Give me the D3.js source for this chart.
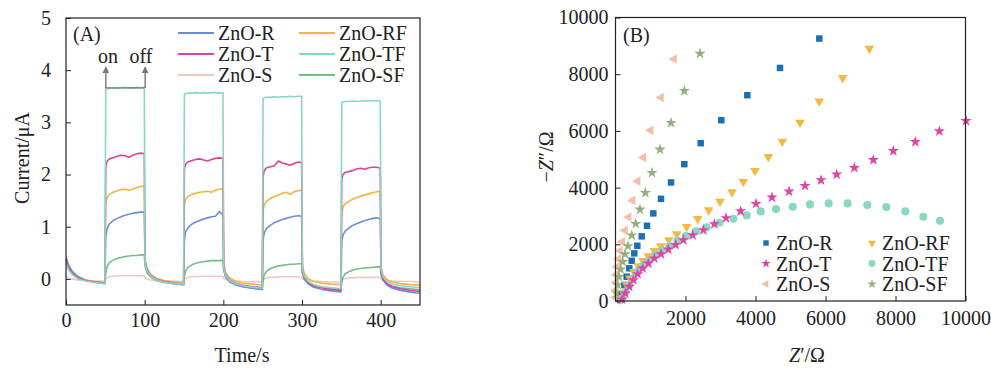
<!DOCTYPE html>
<html>
<head>
<meta charset="utf-8">
<script src="https://cdn.jsdelivr.net/npm/d3@7"></script>
<style>
  body { margin: 0; background: #fff; }
  svg { display: block; font-family: "Liberation Serif", "Times New Roman", serif; }
  .axis text { font-size: 20px; fill: #222; font-family: "Liberation Serif", serif; }
  .axis line { stroke: #222; }
  .frame { fill: none; stroke: #222; stroke-width: 1.2; }
  .lbl { font-size: 20px; fill: #222; }
</style>
</head>
<body>
<div id="chart"></div>
<script>
// ---- panel A: photocurrent vs time ----
const times = [
  0, 3, 8, 15, 25, 37, 49.5,
  50.5, 52, 55, 60, 65, 70, 75, 80, 85, 90, 95, 99.5,
  100.5, 103, 108, 115, 125, 137, 149.5,
  150.5, 152, 155, 160, 165, 170, 175, 180, 185, 190, 195, 199.5,
  200.5, 203, 208, 215, 225, 237, 249.5,
  250.5, 252, 255, 260, 265, 270, 275, 280, 285, 290, 295, 299.5,
  300.5, 303, 308, 315, 325, 337, 349.5,
  350.5, 352, 355, 360, 365, 370, 375, 380, 385, 390, 395, 399.5,
  400.5, 403, 408, 415, 425, 437, 450
];

const curR = [
  0.40, 0.25, 0.12, 0.03, -0.03, -0.07, -0.09,
  0.80, 0.95, 1.05, 1.12, 1.16, 1.19, 1.22, 1.24, 1.26, 1.27, 1.28, 1.28,
  0.30, 0.15, 0.05, -0.02, -0.06, -0.09, -0.11,
  0.75, 0.90, 0.98, 1.05, 1.09, 1.12, 1.15, 1.17, 1.19, 1.20, 1.29, 1.23,
  0.20, 0.05, -0.05, -0.11, -0.15, -0.18, -0.20,
  0.75, 0.88, 0.97, 1.03, 1.08, 1.11, 1.14, 1.16, 1.18, 1.20, 1.21, 1.20,
  0.15, 0.00, -0.10, -0.16, -0.20, -0.23, -0.25,
  0.70, 0.84, 0.92, 0.98, 1.03, 1.06, 1.09, 1.12, 1.14, 1.16, 1.17, 1.15,
  0.10, -0.02, -0.12, -0.18, -0.22, -0.25, -0.28
];
const curT = [
  0.38, 0.22, 0.10, 0.02, -0.03, -0.06, -0.08,
  2.15, 2.25, 2.30, 2.32, 2.35, 2.37, 2.36, 2.33, 2.37, 2.40, 2.41, 2.40,
  0.35, 0.18, 0.06, -0.01, -0.05, -0.08, -0.10,
  2.10, 2.20, 2.24, 2.27, 2.29, 2.30, 2.28, 2.26, 2.29, 2.31, 2.32, 2.31,
  0.25, 0.08, -0.02, -0.08, -0.12, -0.15, -0.17,
  1.95, 2.08, 2.13, 2.15, 2.17, 2.26, 2.22, 2.20, 2.18, 2.21, 2.24, 2.23,
  0.20, 0.03, -0.07, -0.13, -0.17, -0.20, -0.22,
  1.90, 2.00, 2.04, 2.06, 2.08, 2.11, 2.12, 2.10, 2.13, 2.14, 2.14, 2.12,
  0.15, 0.00, -0.09, -0.15, -0.19, -0.22, -0.24
];
const curS = [
  0.05, 0.02, 0.00, -0.02, -0.03, -0.04, -0.04,
  -0.01, 0.02, 0.04, 0.05, 0.06, 0.06, 0.06, 0.06, 0.06, 0.06, 0.06, 0.06,
  0.02, 0.00, -0.02, -0.03, -0.04, -0.04, -0.05,
  -0.02, 0.01, 0.03, 0.04, 0.04, 0.05, 0.05, 0.05, 0.05, 0.05, 0.05, 0.05,
  0.01, -0.01, -0.03, -0.04, -0.05, -0.05, -0.06,
  -0.03, 0.00, 0.02, 0.03, 0.03, 0.04, 0.04, 0.04, 0.04, 0.04, 0.04, 0.04,
  0.00, -0.02, -0.03, -0.04, -0.05, -0.06, -0.06,
  -0.04, -0.01, 0.01, 0.02, 0.02, 0.03, 0.03, 0.03, 0.03, 0.03, 0.03, 0.03,
  0.00, -0.02, -0.03, -0.04, -0.05, -0.05, -0.06
];
const curRF = [
  0.35, 0.20, 0.09, 0.02, -0.02, -0.05, -0.07,
  1.45, 1.55, 1.62, 1.66, 1.69, 1.71, 1.72, 1.70, 1.72, 1.75, 1.77, 1.78,
  0.35, 0.20, 0.08, 0.01, -0.03, -0.06, -0.07,
  1.40, 1.52, 1.58, 1.62, 1.64, 1.66, 1.67, 1.68, 1.66, 1.70, 1.72, 1.73,
  0.30, 0.12, 0.02, -0.04, -0.08, -0.10, -0.12,
  1.30, 1.42, 1.49, 1.54, 1.58, 1.61, 1.64, 1.66, 1.62, 1.67, 1.69, 1.70,
  0.25, 0.10, 0.00, -0.05, -0.08, -0.10, -0.11,
  1.25, 1.38, 1.44, 1.49, 1.53, 1.56, 1.59, 1.61, 1.63, 1.65, 1.67, 1.68,
  0.22, 0.08, -0.01, -0.06, -0.09, -0.11, -0.12
];
const curTF = [
  0.30, 0.18, 0.08, 0.00, -0.04, -0.07, -0.09,
  3.64, 3.65, 3.65, 3.66, 3.65, 3.66, 3.67, 3.66, 3.66, 3.67, 3.66, 3.67,
  0.30, 0.16, 0.05, -0.02, -0.06, -0.09, -0.10,
  3.54, 3.55, 3.56, 3.56, 3.57, 3.56, 3.57, 3.56, 3.57, 3.57, 3.56, 3.57,
  0.22, 0.07, -0.03, -0.09, -0.13, -0.16, -0.18,
  3.46, 3.47, 3.48, 3.48, 3.49, 3.48, 3.49, 3.49, 3.50, 3.49, 3.50, 3.50,
  0.20, 0.05, -0.05, -0.11, -0.15, -0.17, -0.19,
  3.38, 3.39, 3.40, 3.40, 3.41, 3.40, 3.41, 3.41, 3.42, 3.41, 3.42, 3.41,
  0.18, 0.04, -0.05, -0.10, -0.13, -0.15, -0.17
];
const curSF = [
  0.42, 0.28, 0.15, 0.05, -0.02, -0.06, -0.08,
  0.10, 0.22, 0.31, 0.36, 0.39, 0.41, 0.43, 0.44, 0.45, 0.45, 0.46, 0.46,
  0.25, 0.12, 0.03, -0.03, -0.07, -0.09, -0.11,
  0.05, 0.15, 0.22, 0.27, 0.30, 0.32, 0.33, 0.34, 0.35, 0.35, 0.35, 0.36,
  0.15, 0.03, -0.06, -0.11, -0.15, -0.18, -0.20,
  -0.05, 0.08, 0.15, 0.20, 0.23, 0.25, 0.26, 0.27, 0.28, 0.28, 0.29, 0.29,
  0.10, 0.00, -0.08, -0.13, -0.16, -0.18, -0.20,
  -0.08, 0.03, 0.10, 0.14, 0.17, 0.19, 0.20, 0.21, 0.22, 0.22, 0.23, 0.23,
  0.08, -0.02, -0.09, -0.14, -0.17, -0.19, -0.21
];

const timeTicks = [0, 100, 200, 300, 400];
const currentTicks = [0, 1, 2, 3, 4, 5];
const onOffTimes = [50, 100];

// ---- panel B: Nyquist plots, [Z', -Z''] ----
const nyqR = [[5823,9257],[4700,8221],[3766,7259],[3023,6378],[2434,5567],[1966,4827],[1586,4182],[1300,3605],[1081,3090],[900,2653],[749,2280],[623,1949],[537,1681],[463,1420],[394,1152],[320,856],[254,564],[186,271],[129,35]];
const nyqT = [[10014,6353],[9252,5990],[8567,5613],[7938,5296],[7367,4979],[6824,4697],[6320,4464],[5871,4264],[5414,4063],[4957,3865],[4471,3654],[4014,3429],[3576,3171],[3157,2925],[2823,2713],[2510,2502],[2205,2326],[1938,2149],[1719,1984],[1509,1822],[1300,1656],[1110,1505],[938,1328],[777,1152],[634,951],[509,740],[394,504],[280,271],[186,60]];
const nyqS = [[1671,8538],[1300,7177],[1005,6025],[795,5063],[634,4228],[490,3548],[376,2960],[271,2491],[195,2090],[129,1772],[81,1480],[43,1209],[20,930],[10,650],[5,380],[2,120]];
const nyqRF = [[7252,8903],[6490,7870],[5823,7047],[5271,6296],[4766,5626],[4366,5086],[3986,4592],[3652,4205],[3329,3841],[2986,3512],[2662,3207],[2348,2900],[2033,2618],[1752,2361],[1524,2149],[1295,1938],[1110,1772],[938,1586],[786,1420],[652,1233],[529,1033],[414,800],[319,564],[224,293],[148,59]];
const nyqTF = [[9271,2830],[8795,2971],[8280,3160],[7738,3312],[7195,3383],[6633,3442],[6090,3442],[5557,3406],[5062,3323],[4586,3242],[4148,3160],[3748,3019],[3366,2900],[2966,2759],[2605,2597],[2300,2456],[2014,2290],[1766,2125],[1537,1938],[1320,1772],[1129,1621],[938,1420],[777,1233],[634,1034],[509,799],[394,564],[290,329],[195,94]];
const nyqSF = [[2414,8727],[1966,7411],[1586,6283],[1271,5345],[1043,4522],[852,3816],[700,3230],[577,2724],[463,2315],[357,1938],[271,1656],[205,1385],[148,1117],[100,856],[62,564],[33,270]];

const zReTicks = [2000, 4000, 6000, 8000, 10000];
const zImTicks = [0, 2000, 4000, 6000, 8000, 10000];

const seriesA = [
  { name: 'ZnO-S',  values: curS,  color: '#f0c8c4' },
  { name: 'ZnO-SF', values: curSF, color: '#78bb88' },
  { name: 'ZnO-R',  values: curR,  color: '#6b8fd2' },
  { name: 'ZnO-RF', values: curRF, color: '#f0b548' },
  { name: 'ZnO-T',  values: curT,  color: '#d8449e' },
  { name: 'ZnO-TF', values: curTF, color: '#88d6c6' }
];
const legendA = ['ZnO-R', 'ZnO-RF', 'ZnO-T', 'ZnO-TF', 'ZnO-S', 'ZnO-SF'];

const seriesB = [
  { name: 'ZnO-R',  values: nyqR,  color: '#1b6fb3', shape: d3.symbolSquare,   rot: 0,   size: 42 },
  { name: 'ZnO-RF', values: nyqRF, color: '#f4b944', shape: d3.symbolTriangle, rot: 180, size: 40 },
  { name: 'ZnO-T',  values: nyqT,  color: '#e045a6', shape: d3.symbolStar,     rot: 0,   size: 40 },
  { name: 'ZnO-TF', values: nyqTF, color: '#88d8c2', shape: d3.symbolCircle,   rot: 0,   size: 52 },
  { name: 'ZnO-S',  values: nyqS,  color: '#f3bfa8', shape: d3.symbolTriangle, rot: -90, size: 40 },
  { name: 'ZnO-SF', values: nyqSF, color: '#93b07e', shape: d3.symbolStar,     rot: 0,   size: 40 }
];
const drawOrderB = ['ZnO-S', 'ZnO-SF', 'ZnO-R', 'ZnO-RF', 'ZnO-TF', 'ZnO-T'];

const svg = d3.select('#chart').append('svg')
  .attr('width', 991).attr('height', 368);
svg.append('rect').attr('width', 991).attr('height', 368).attr('fill', '#fff');

// ===== Panel A =====
const xA = d3.scaleLinear().domain([0, 450]).range([66, 420]);
const yA = d3.scaleLinear().domain([-0.5, 5]).range([305, 18]);

svg.append('g').attr('class', 'axis')
  .attr('transform', `translate(0,${yA(-0.5)})`)
  .call(d3.axisBottom(xA).tickValues(timeTicks).tickFormat(d3.format('d'))
    .tickSizeInner(-5).tickSizeOuter(0).tickPadding(8))
  .call(g => g.select('.domain').remove());
svg.append('g').attr('class', 'axis')
  .attr('transform', `translate(${xA(0)},0)`)
  .call(d3.axisLeft(yA).tickValues(currentTicks).tickFormat(d3.format('d'))
    .tickSizeInner(-5).tickSizeOuter(0).tickPadding(15))
  .call(g => g.select('.domain').remove());

svg.append('clipPath').attr('id', 'clipA').append('rect')
  .attr('x', xA(0)).attr('y', yA(5)).attr('width', xA(450) - xA(0)).attr('height', yA(-0.5) - yA(5));

const lineA = d3.line().x((d, i) => xA(times[i])).y(d => yA(d));
svg.append('g').attr('clip-path', 'url(#clipA)')
  .selectAll('path').data(seriesA).join('path')
    .attr('d', d => lineA(d.values))
    .attr('fill', 'none')
    .attr('stroke', d => d.color)
    .attr('stroke-width', 1.6)
    .attr('stroke-linejoin', 'round');

svg.append('rect').attr('class', 'frame')
  .attr('x', xA(0)).attr('y', yA(5)).attr('width', xA(450) - xA(0)).attr('height', yA(-0.5) - yA(5));

// on/off arrows
svg.append('defs').append('marker')
  .attr('id', 'arrow').attr('viewBox', '0 0 10 10').attr('refX', 9).attr('refY', 5)
  .attr('markerWidth', 5).attr('markerHeight', 6).attr('orient', 'auto')
  .append('path').attr('d', 'M0,0 L10,5 L0,10 Z').attr('fill', '#777');
svg.selectAll('.onoff').data(onOffTimes).join('line')
  .attr('class', 'onoff')
  .attr('x1', d => xA(d) + 0.5).attr('x2', d => xA(d) + 0.5)
  .attr('y1', yA(3.66)).attr('y2', yA(4.06))
  .attr('stroke', '#777').attr('stroke-width', 1.4)
  .attr('marker-end', 'url(#arrow)');
svg.append('line').attr('x1', xA(50)).attr('x2', xA(100)).attr('y1', yA(3.66)).attr('y2', yA(3.66))
  .attr('stroke', '#777').attr('stroke-width', 1.2);
svg.append('text').attr('class', 'lbl').attr('x', 108).attr('y', 63).attr('text-anchor', 'middle').text('on');
svg.append('text').attr('class', 'lbl').attr('x', 141).attr('y', 63).attr('text-anchor', 'middle').text('off');
svg.append('text').attr('class', 'lbl').attr('x', 73).attr('y', 41).text('(A)');

// legend A
const legA = svg.append('g');
legendA.forEach((name, i) => {
  const s = seriesA.find(d => d.name === name);
  const col = i % 2, row = Math.floor(i / 2);
  const lx = col === 0 ? 178 : 299;
  const ly = 33 + row * 21;
  legA.append('line').attr('x1', lx).attr('x2', lx + 36).attr('y1', ly).attr('y2', ly)
    .attr('stroke', s.color).attr('stroke-width', 1.8);
  legA.append('text').attr('class', 'lbl').attr('x', lx + 40).attr('y', ly + 7).text(name);
});

svg.append('text').attr('class', 'lbl')
  .attr('transform', 'translate(29,158) rotate(-90)')
  .attr('text-anchor', 'middle').text('Current/μA');
svg.append('text').attr('class', 'lbl')
  .attr('x', 242).attr('y', 362).attr('text-anchor', 'middle').text('Time/s');

// ===== Panel B =====
const xB = d3.scaleLinear().domain([0, 10000]).range([615.5, 965.5]);
const yB = d3.scaleLinear().domain([0, 10000]).range([301, 17.5]);

svg.append('g').attr('class', 'axis')
  .attr('transform', `translate(0,${yB(0)})`)
  .call(d3.axisBottom(xB).tickValues(zReTicks).tickFormat(d3.format('d'))
    .tickSizeInner(-5).tickSizeOuter(0).tickPadding(10))
  .call(g => g.select('.domain').remove());
svg.append('g').attr('class', 'axis')
  .attr('transform', `translate(${xB(0)},0)`)
  .call(d3.axisLeft(yB).tickValues(zImTicks).tickFormat(d3.format('d'))
    .tickSizeInner(-5).tickSizeOuter(0).tickPadding(7))
  .call(g => g.select('.domain').remove());

const pts = svg.append('g');
drawOrderB.forEach(name => {
  const s = seriesB.find(d => d.name === name);
  const sym = d3.symbol().type(s.shape).size(s.size);
  pts.selectAll(null).data(s.values).join('path')
    .attr('d', sym)
    .attr('transform', d => `translate(${xB(d[0])},${yB(d[1])}) rotate(${s.rot})`)
    .attr('fill', s.color);
});

svg.append('rect').attr('class', 'frame')
  .attr('x', xB(0)).attr('y', yB(10000)).attr('width', xB(10000) - xB(0)).attr('height', yB(0) - yB(10000));

svg.append('text').attr('class', 'lbl').attr('x', 623).attr('y', 42).text('(B)');

// legend B
const legB = svg.append('g');
seriesB.forEach((s, i) => {
  const col = i % 2, row = Math.floor(i / 2);
  const mx = col === 0 ? 766 : 872;
  const my = 243 + row * 20.5;
  legB.append('path')
    .attr('d', d3.symbol().type(s.shape).size(s.size * 0.7))
    .attr('transform', `translate(${mx},${my}) rotate(${s.rot})`)
    .attr('fill', s.color);
  legB.append('text').attr('class', 'lbl').attr('x', mx + 10).attr('y', my + 7).text(s.name);
});

const yLabB = svg.append('text').attr('class', 'lbl')
  .attr('transform', 'translate(553,157) rotate(-90)')
  .attr('text-anchor', 'middle');
yLabB.append('tspan').text('−');
yLabB.append('tspan').attr('font-style', 'italic').text('Z');
yLabB.append('tspan').text('″/Ω');

const xLabB = svg.append('text').attr('class', 'lbl')
  .attr('x', 807).attr('y', 362).attr('text-anchor', 'middle');
xLabB.append('tspan').attr('font-style', 'italic').text('Z');
xLabB.append('tspan').text('′/Ω');
</script>
</body>
</html>
